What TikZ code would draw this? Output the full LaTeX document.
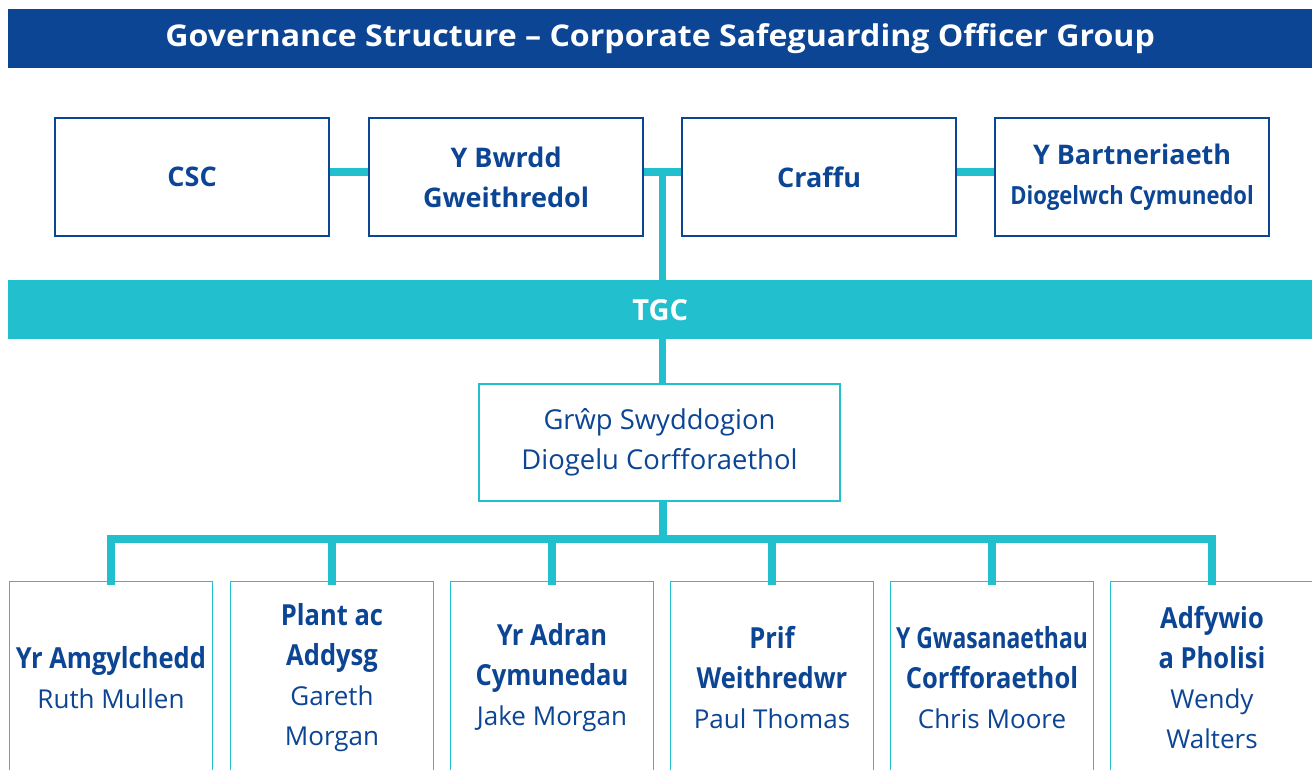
\documentclass[tikz,border=0pt]{standalone}
\usepackage{fontspec}
\setmainfont{Open Sans}
\newfontfamily\condfont[FakeStretch=0.88]{Open Sans}
\newfontfamily\tightfont[FakeStretch=0.79]{Open Sans}
\newfontfamily\widefont[FakeStretch=1.07]{Open Sans}
\definecolor{cgblue}{HTML}{0C4594}
\definecolor{cgcyan}{HTML}{22BFCE}
\tikzset{
  band/.style={fill=#1, draw=none, text=white, minimum width=1304pt, minimum height=59pt, inner sep=0pt, anchor=north west},
  topbox/.style={draw=cgblue, line width=2.2pt, fill=white, minimum width=274pt, minimum height=118pt, inner sep=2pt, anchor=north west, align=center, text=cgblue, font=\bfseries\fontsize{27}{40}\selectfont},
  midbox/.style={draw=cgcyan, line width=2pt, fill=white, minimum width=361pt, minimum height=117pt, inner sep=2pt, anchor=north west, align=center, text=cgblue, font=\fontsize{27.4}{40}\selectfont},
  unitbox/.style={draw=cgcyan, line width=1.4pt, fill=white, minimum width=203pt, minimum height=192pt, inner sep=1pt, anchor=north, align=center, text=cgblue, font=\fontsize{26}{40}\selectfont},
  link/.style={draw=cgcyan, line width=8pt}
}
\newcommand{\hdtext}[1]{{\bfseries\condfont\fontsize{29}{40}\selectfont #1}}
\newcommand{\hdtight}[1]{{\bfseries\tightfont\fontsize{29}{40}\selectfont #1}}
\begin{document}
\begin{tikzpicture}[x=1pt,y=-1pt]
\clip (0,0) rectangle (1312,769);
\fill[white] (0,0) rectangle (1312,769);
% title
\node[band=cgblue, font=\bfseries\widefont\fontsize{30}{34}\selectfont] (title) at (8,9) {Governance Structure – Corporate Safeguarding Officer Group};
% top row
\node[topbox] (csc) at (54,117) {CSC};
\node[topbox] (bwrdd) at (368,117) {Y Bwrdd\\Gweithredol};
\node[topbox] (craffu) at (681,117) {Craffu};
\node[topbox] (partner) at (994,117) {Y Bartneriaeth\\{\condfont\fontsize{25}{40}\selectfont Diogelwch Cymunedol}};
% TGC bar
\node[band=cgcyan, font=\bfseries\fontsize{29}{34}\selectfont] (tgc) at (8,280) {TGC};
% middle box
\node[midbox] (grwp) at (478,383) {\rule{0pt}{4pt}Grŵp Swyddogion\\Diogelu Corfforaethol};
% units
\node[unitbox] (u1) at (111,581) {\hdtext{Yr Amgylchedd}\\Ruth Mullen};
\node[unitbox] (u2) at (332,581) {\hdtext{Plant ac}\\\hdtext{Addysg}\\Gareth\\Morgan};
\node[unitbox] (u3) at (552,581) {\hdtext{Yr Adran}\\\hdtext{Cymunedau}\\Jake Morgan};
\node[unitbox] (u4) at (772,581) {\hdtext{Prif}\\\hdtext{Weithredwr}\\Paul Thomas};
\node[unitbox] (u5) at (992,581) {\hdtight{Y Gwasanaethau}\\\hdtext{Corfforaethol}\\Chris Moore};
\node[unitbox] (u6) at (1212,581) {\hdtext{Adfywio}\\\hdtext{a Pholisi}\\Wendy\\Walters};
% top links
\draw[link] ([yshift=5pt]csc.east) -- ([yshift=5pt]bwrdd.west);
\draw[link] ([yshift=5pt]bwrdd.east) -- coordinate (hub) ([yshift=5pt]craffu.west);
\draw[link] ([yshift=5pt]craffu.east) -- ([yshift=5pt]partner.west);
\draw[link, line width=7pt] ([yshift=4pt]hub) -- (hub |- tgc.north);
\draw[link, line width=7pt] (hub |- tgc.south) -- (hub |- grwp.north);
% bus
\coordinate (bus) at (hub |- 0,539);
\draw[link] (bus |- grwp.south) -- (bus);
\foreach \u in {u1,u2,u3,u4,u5,u6}{
  \draw[link, line cap=rect] (bus) -| (\u.north);
}
\end{tikzpicture}
\end{document}
